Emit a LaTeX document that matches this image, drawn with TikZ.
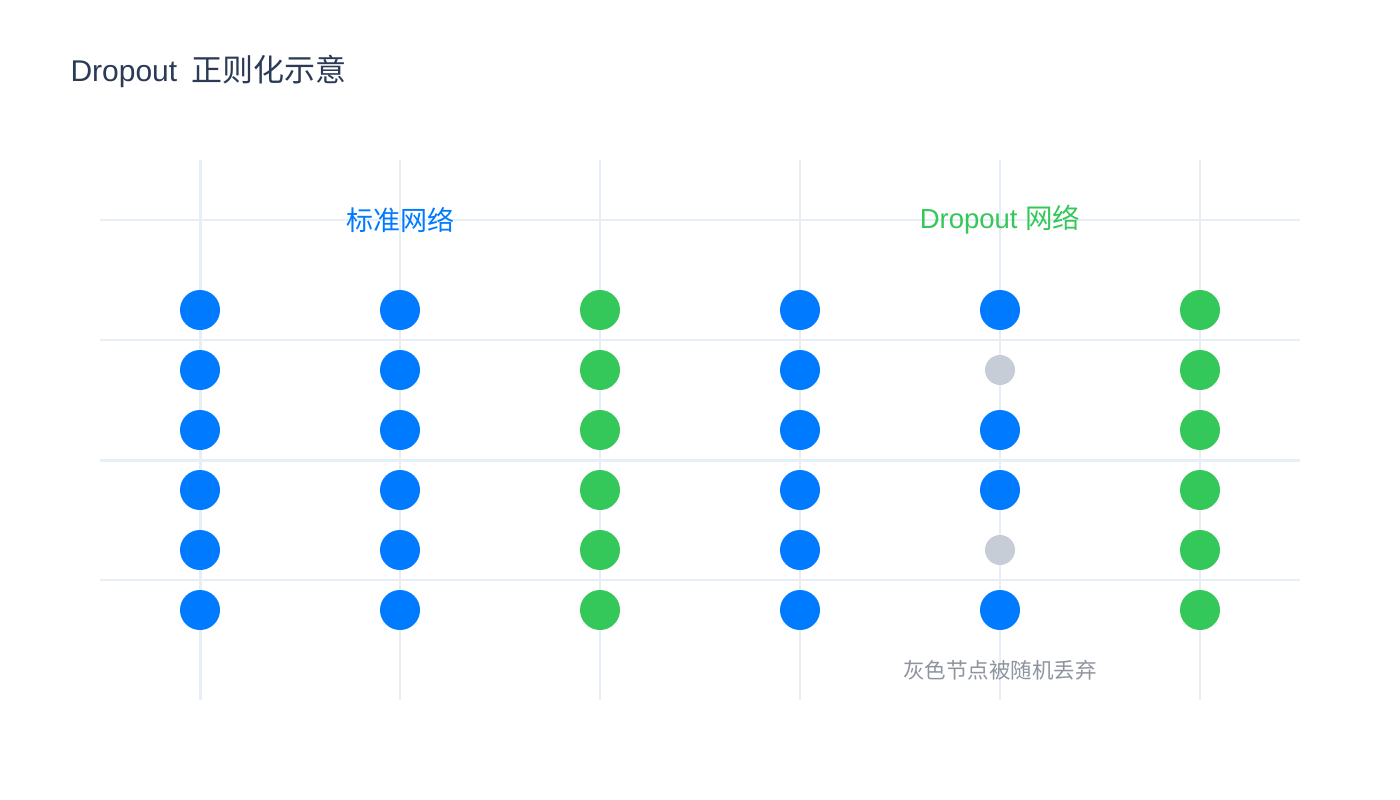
\documentclass[tikz,border=0pt]{standalone}
\usepackage{fontspec}
\setmainfont{Liberation Sans}
\newfontfamily\cjk{Noto Sans CJK SC}

\definecolor{unitblue}{HTML}{007AFF}
\definecolor{unitgreen}{HTML}{34C759}
\definecolor{unitgray}{HTML}{C7CDD6}
\definecolor{gridcol}{HTML}{E8EEF6}
\definecolor{titlecol}{HTML}{2B3A55}
\definecolor{notecol}{HTML}{8E949E}

\tikzset{
  gridline/.style={draw=gridcol, line width=1.5pt},
  axisline/.style={draw=gridcol, line width=3pt},
  blueunit/.style={circle, fill=unitblue, inner sep=0pt, minimum size=40pt},
  greenunit/.style={circle, fill=unitgreen, inner sep=0pt, minimum size=40pt},
  dropunit/.style={circle, fill=unitgray, inner sep=0pt, minimum size=30pt}
}

\begin{document}
\begin{tikzpicture}[x=1pt, y=-1pt]
  \useasboundingbox (0,0) rectangle (1400,800);

  % grid
  \foreach \x in {400,600,...,1200}
    \draw[gridline] (\x,160) -- (\x,700);
  \foreach \y in {220,340,580}
    \draw[gridline] (100,\y) -- (1300,\y);
  \draw[axisline] (200,160) -- (200,700);
  \draw[axisline] (100,460) -- (1300,460);

  \node[anchor=west, text=titlecol, font=\fontsize{30}{36}\selectfont] (title) at (67,71) {Dropout\hspace{14pt}{\cjk\fontsize{31}{36}\selectfont 正则化示意}};

  \node[text=unitblue, font=\fontsize{27}{32}\selectfont\cjk] (stdlabel) at (400,220) {标准网络};
  \node[text=unitgreen, font=\fontsize{27.5}{32}\selectfont] (droplabel) at (1000,220) {Dropout {\cjk 网络}};

  % standard network
  \foreach \r/\y in {1/310,2/370,3/430,4/490,5/550,6/610} {
    \node[blueunit] (std-1-\r) at (200,\y) {};
    \node[blueunit] (std-2-\r) at (400,\y) {};
    \node[greenunit] (std-3-\r) at (600,\y) {};
  }

  % dropout network
  \foreach \r/\y/\kind in {1/310/blueunit,2/370/dropunit,3/430/blueunit,4/490/blueunit,5/550/dropunit,6/610/blueunit} {
    \node[blueunit] (drop-1-\r) at (800,\y) {};
    \node[\kind] (drop-2-\r) at (1000,\y) {};
    \node[greenunit] (drop-3-\r) at (1200,\y) {};
  }

  \node[text=notecol, font=\fontsize{21.5}{26}\selectfont\cjk] (note) at (1000,670) {灰色节点被随机丢弃};
\end{tikzpicture}
\end{document}
